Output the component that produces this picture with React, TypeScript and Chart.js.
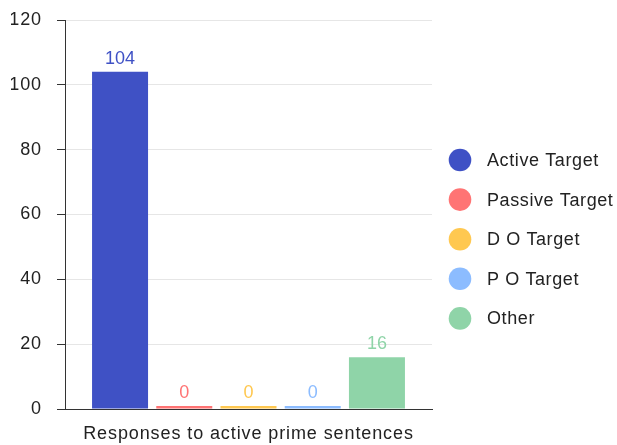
import { useEffect, useRef } from "react";
import { Chart, registerables } from "chart.js";

Chart.register(...registerables);

// Chart data
const categories = ["Responses to active prime sentences"];
const seriesNames = ["Active Target", "Passive Target", "D O Target", "P O Target", "Other"];
const activeTarget = [104];
const passiveTarget = [0];
const doTarget = [0];
const poTarget = [0];
const other = [16];
const seriesColors = ["#3f51c5", "#ff7474", "#ffc850", "#8cbcff", "#8fd4a8"];
const yMin = 0;
const yMax = 120;
const yStep = 20;

const FONT_FAMILY = "Arial, 'Liberation Sans', sans-serif";

// Slightly looser tracking for the axis text
const axisTracking = {
  id: "axisTracking",
  beforeDraw(chart: any) {
    chart.ctx.letterSpacing = "0.9px";
  },
  afterDraw(chart: any) {
    chart.ctx.letterSpacing = "0px";
  },
};

// Draws each bar's value just above it, in the series colour
const valueLabels = {
  id: "valueLabels",
  afterDatasetsDraw(chart: any) {
    const { ctx } = chart;
    ctx.save();
    ctx.letterSpacing = "0px";
    ctx.font = `18px ${FONT_FAMILY}`;
    ctx.textAlign = "center";
    ctx.textBaseline = "alphabetic";
    chart.data.datasets.forEach((ds: any, i: number) => {
      const meta = chart.getDatasetMeta(i);
      meta.data.forEach((bar: any, j: number) => {
        const top = Math.min(bar.y, bar.base);
        ctx.fillStyle = ds.backgroundColor;
        ctx.fillText(String(ds.data[j]), bar.x, top - 8);
      });
    });
    ctx.restore();
  },
};

// Vertical legend with round markers to the right of the plot
const sideLegend = {
  id: "sideLegend",
  afterDraw(chart: any) {
    const { ctx, chartArea } = chart;
    const cx = chartArea.right + 28;
    const textX = chartArea.right + 55;
    const firstY = chartArea.top + 140;
    const rowGap = 39.6;
    ctx.save();
    ctx.letterSpacing = "0.6px";
    ctx.font = `18px ${FONT_FAMILY}`;
    ctx.textAlign = "left";
    ctx.textBaseline = "middle";
    chart.data.datasets.forEach((ds: any, i: number) => {
      const y = firstY + i * rowGap;
      ctx.beginPath();
      ctx.arc(cx, y, 11.3, 0, Math.PI * 2);
      ctx.fillStyle = ds.backgroundColor;
      ctx.fill();
      ctx.fillStyle = "#222222";
      ctx.fillText(ds.label, textX, y + 1);
    });
    ctx.restore();
  },
};

export default function App() {
  const canvasRef = useRef<HTMLCanvasElement | null>(null);

  useEffect(() => {
    document.body.style.margin = "0";
    const canvas = canvasRef.current;
    if (!canvas) return;
    const values = [activeTarget, passiveTarget, doTarget, poTarget, other];
    const chart = new Chart(canvas, {
      type: "bar",
      data: {
        labels: categories,
        datasets: seriesNames.map((name, i) => ({
          label: name,
          data: values[i],
          backgroundColor: seriesColors[i],
          borderWidth: 0,
          minBarLength: 3,
          categoryPercentage: 0.875,
          barPercentage: 0.872,
        })),
      },
      options: {
        animation: false,
        responsive: true,
        maintainAspectRatio: false,
        layout: { padding: { left: 11, right: 185, top: 20, bottom: 0 } },
        plugins: {
          legend: { display: false },
          tooltip: { enabled: false },
        },
        scales: {
          x: {
            grid: { display: false, drawTicks: false },
            border: { display: true, color: "#333333", width: 1 },
            ticks: {
              color: "#222222",
              font: { family: FONT_FAMILY, size: 18 },
              padding: 14,
            },
            afterFit: (scale: any) => {
              scale.height = 36;
            },
          },
          y: {
            min: yMin,
            max: yMax,
            ticks: {
              stepSize: yStep,
              color: "#222222",
              font: { family: FONT_FAMILY, size: 18 },
              padding: 15,
            },
            grid: {
              color: "#e6e6e6",
              tickColor: "#333333",
              tickLength: 8,
            },
            border: { display: true, color: "#333333", width: 1 },
            afterFit: (scale: any) => {
              scale.width = 54;
              scale.paddingTop = 0;
              scale.paddingBottom = 0;
            },
          },
        },
      },
      plugins: [axisTracking, valueLabels, sideLegend],
    });
    return () => chart.destroy();
  }, []);

  return (
    <div style={{ width: 617, height: 445, position: "relative", background: "#ffffff" }}>
      <canvas ref={canvasRef} />
    </div>
  );
}
